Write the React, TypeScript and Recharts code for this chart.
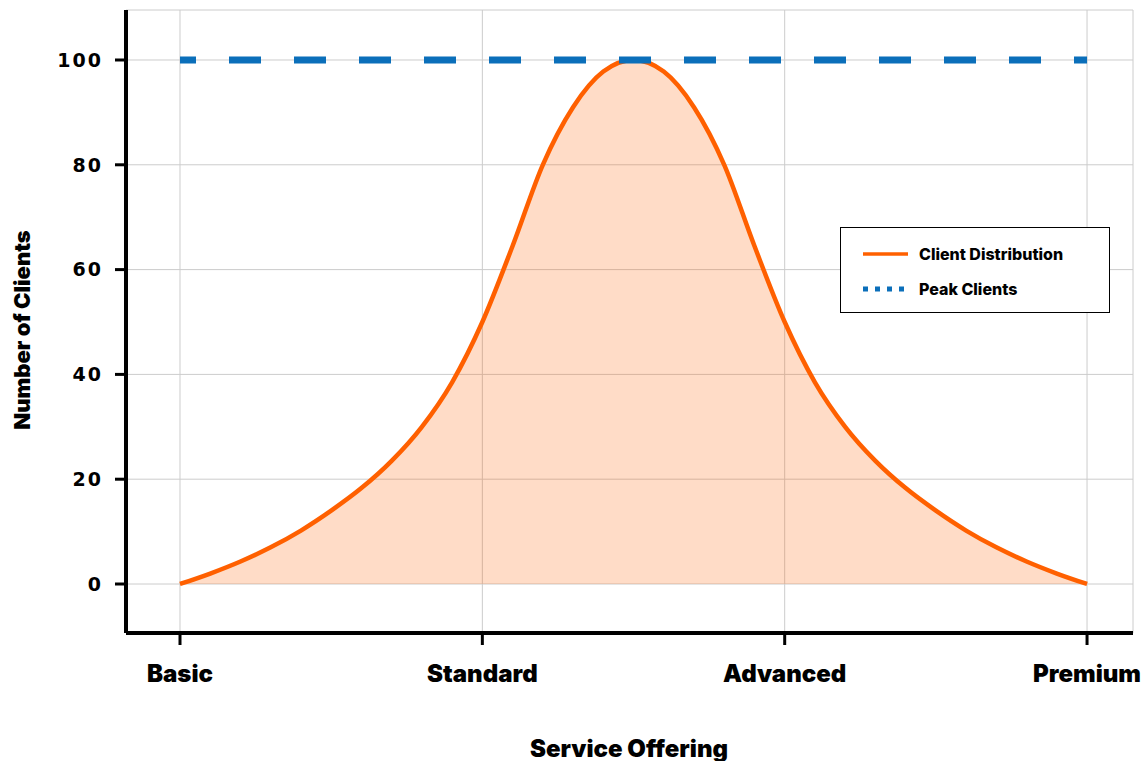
import React from "react";
import {
  ComposedChart,
  Area,
  Line,
  XAxis,
  YAxis,
  CartesianGrid,
  Legend,
} from "recharts";

// service tiers on the x axis (positions 0..3)
const tiers = ["Basic", "Standard", "Advanced", "Premium"];

// sample positions along the x axis and the client counts
const positions = [
  0, 0.1, 0.2, 0.3, 0.4, 0.5, 0.6, 0.7, 0.8, 0.9, 1.0, 1.1, 1.2, 1.3, 1.4, 1.5,
  1.6, 1.7, 1.8, 1.9, 2.0, 2.1, 2.2, 2.3, 2.4, 2.5, 2.6, 2.7, 2.8, 2.9, 3.0,
];
const clients = [
  0, 2.0, 4.3, 7.0, 10.2, 14.0, 18.3, 23.5, 30.0, 38.5, 50.0, 64.5, 80.0, 91.0,
  97.8, 100, 97.8, 91.0, 80.0, 64.5, 50.0, 38.5, 30.0, 23.5, 18.3, 14.0, 10.2,
  7.0, 4.3, 2.0, 0,
];
const peakClients = 100;
const yTicks = [0, 20, 40, 60, 80, 100];

const data = positions.map((x, i) => ({
  x,
  clients: clients[i],
  peak: peakClients,
}));

const ORANGE = "#FF6000";
const BLUE = "#0B6FBA";
const LABEL_FONT = "Inter, Roboto, sans-serif";

const LegendBox = () => (
  <div
    style={{
      width: 268,
      height: 84,
      border: "1.5px solid #000",
      background: "#fff",
      fontFamily: LABEL_FONT,
      fontWeight: 800,
      fontSize: 16,
      color: "#000",
      position: "relative",
    }}
  >
    <svg width={80} height={84} style={{ position: "absolute", left: 0, top: 0 }}>
      <line x1={22} x2={67} y1={26} y2={26} stroke={ORANGE} strokeWidth={3.5} />
      <line
        x1={22}
        x2={67}
        y1={61}
        y2={61}
        stroke={BLUE}
        strokeWidth={5}
        strokeDasharray="5 7"
      />
    </svg>
    <div style={{ position: "absolute", left: 78, top: 16, whiteSpace: "nowrap" }}>
      Client Distribution
    </div>
    <div style={{ position: "absolute", left: 78, top: 51, whiteSpace: "nowrap" }}>
      Peak Clients
    </div>
  </div>
);

const App = () => {
  return (
    <div>
      <style>{`body{margin:0}`}</style>
      <ComposedChart
        width={1148}
        height={761}
        data={data}
        margin={{ top: 10, right: 15, left: 0, bottom: 0 }}
      >
        <CartesianGrid stroke="#cccccc" strokeWidth={1} />
        <XAxis
          dataKey="x"
          type="number"
          domain={[-0.1786, 3.152]}
          allowDataOverflow
          ticks={[0, 1, 2, 3]}
          tickFormatter={(v: number) => tiers[v]}
          height={128}
          axisLine={{ stroke: "#000", strokeWidth: 4 }}
          tickLine={{ stroke: "#000", strokeWidth: 3 }}
          tickSize={12}
          tickMargin={20}
          tick={{
            fill: "#000",
            fontSize: 24,
            fontWeight: 900,
            fontFamily: LABEL_FONT,
          }}
          label={{
            content: () => (
              <text
                x={629}
                y={748}
                textAnchor="middle"
                dominantBaseline="central"
                fontFamily={LABEL_FONT}
                fontWeight={900}
                fontSize={24}
                fill="#000"
              >
                Service Offering
              </text>
            ),
          }}
        />
        <YAxis
          type="number"
          domain={[-9.35, 109.54]}
          allowDataOverflow
          ticks={yTicks}
          width={126}
          axisLine={{ stroke: "#000", strokeWidth: 4 }}
          tickLine={{ stroke: "#000", strokeWidth: 3 }}
          tickSize={11}
          tickMargin={12}
          tick={{
            fill: "#000",
            fontSize: 19,
            fontWeight: 700,
            fontFamily: "'DejaVu Sans', sans-serif",
            letterSpacing: 2,
          }}
          label={{
            content: () => (
              <text
                x={22}
                y={330}
                transform="rotate(-90 22 330)"
                textAnchor="middle"
                dominantBaseline="central"
                fontFamily={LABEL_FONT}
                fontWeight={900}
                fontSize={22}
                fill="#000"
              >
                Number of Clients
              </text>
            ),
          }}
        />
        <Line
          dataKey="peak"
          name="Peak Clients"
          stroke={BLUE}
          strokeWidth={7}
          strokeDasharray="32 33"
          strokeDashoffset={16}
          dot={false}
          activeDot={false}
          isAnimationActive={false}
        />
        <Area
          dataKey="clients"
          name="Client Distribution"
          type="monotone"
          baseValue={0}
          stroke={ORANGE}
          strokeWidth={4.5}
          fill={ORANGE}
          fillOpacity={0.22}
          dot={false}
          activeDot={false}
          isAnimationActive={false}
        />
        <Legend
          layout="horizontal"
          verticalAlign="middle"
          align="center"
          content={() => <LegendBox />}
          wrapperStyle={{ position: "absolute", left: 840, top: 227, width: 270, height: 86 }}
        />
      </ComposedChart>
    </div>
  );
};

export default App;
